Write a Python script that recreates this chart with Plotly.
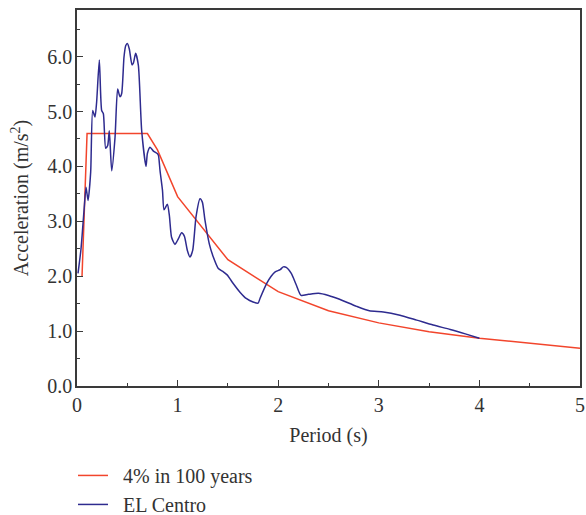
import plotly.graph_objects as go

# Design spectrum "4% in 100 years"
design_T = [0.05, 0.10, 0.70, 0.80, 1.00, 1.50, 2.00, 2.50, 3.00, 3.50, 4.00, 5.00]
design_A = [2.00, 4.60, 4.60, 4.30, 3.45, 2.30, 1.72, 1.37, 1.15, 0.99, 0.87, 0.69]

# EL Centro response spectrum
elc_T = [0.01, 0.04, 0.07, 0.09, 0.11, 0.136, 0.156, 0.179, 0.195, 0.222, 0.245, 0.262,
         0.285, 0.305, 0.321, 0.345, 0.378, 0.404, 0.427, 0.444, 0.467, 0.484, 0.50,
         0.52, 0.547, 0.56, 0.583, 0.61, 0.643, 0.686, 0.70, 0.726, 0.76, 0.80, 0.81,
         0.825, 0.85, 0.865, 0.898, 0.918, 0.94, 0.974, 1.007, 1.04, 1.067, 1.097,
         1.123, 1.15, 1.183, 1.223, 1.246, 1.272, 1.315, 1.355, 1.405, 1.455, 1.495,
         1.54, 1.62, 1.686, 1.75, 1.80, 1.82, 1.886, 1.93, 1.97, 2.02, 2.05, 2.08,
         2.13, 2.18, 2.227, 2.30, 2.40, 2.50, 2.61, 2.78, 2.906, 3.045, 3.21, 3.377,
         3.54, 3.71, 3.86, 4.00]
elc_A = [2.05, 2.50, 3.20, 3.62, 3.38, 3.90, 5.02, 4.90, 5.17, 5.94, 5.02, 4.96,
         4.33, 4.38, 4.65, 3.92, 4.53, 5.41, 5.27, 5.33, 5.99, 6.20, 6.24,
         6.14, 5.85, 5.88, 6.06, 5.84, 4.65, 4.00, 4.24, 4.35, 4.28, 4.23, 4.20,
         3.93, 3.56, 3.21, 3.31, 3.11, 2.71, 2.58, 2.68, 2.79, 2.73, 2.47,
         2.35, 2.47, 3.08, 3.41, 3.35, 3.02, 2.59, 2.35, 2.14, 2.08, 2.02,
         1.90, 1.71, 1.59, 1.53, 1.51, 1.60, 1.87, 2.00, 2.08, 2.12, 2.17, 2.16,
         2.05, 1.84, 1.65, 1.67, 1.69, 1.65, 1.58, 1.45, 1.37, 1.35, 1.29, 1.20,
         1.11, 1.03, 0.95, 0.87]

x_ticks = [0, 1, 2, 3, 4, 5]
y_ticks = [0.0, 1.0, 2.0, 3.0, 4.0, 5.0, 6.0]

font = "Liberation Serif"
axis_col = "#3a3a3a"
fs = 20
nb = "\u00a0\u00a0"

fig = go.Figure()
fig.add_trace(go.Scatter(x=design_T, y=design_A, mode="lines", name=nb + "4% in 100 years",
                         line=dict(color="#F2452C", width=1.5)))
fig.add_trace(go.Scatter(x=elc_T, y=elc_A, mode="lines", name=nb + "EL Centro",
                         line=dict(color="#2E2B8F", width=1.5, shape="spline", smoothing=0.6)))

fig.update_layout(
    width=586, height=515,
    margin=dict(l=77, r=6, t=10, b=129, autoexpand=False),
    paper_bgcolor="white", plot_bgcolor="white",
    font=dict(family=font, size=fs, color="#333333"),
    showlegend=True,
    legend=dict(x=-0.008, xanchor="left", y=-0.186, yanchor="top",
                font=dict(family=font, size=fs, color="#333333"),
                tracegroupgap=0, itemwidth=30, bgcolor="rgba(0,0,0,0)"),
)
fig.update_xaxes(
    range=[0, 5], tickvals=x_ticks, ticktext=[str(v) for v in x_ticks],
    ticks="inside", ticklen=6, tickwidth=1.2, tickcolor=axis_col,
    minor=dict(dtick=0.5, ticks="inside", ticklen=3, tickwidth=1.2, tickcolor=axis_col),
    showline=True, linecolor=axis_col, linewidth=1.5, mirror=True,
    showgrid=False, zeroline=False, automargin=False,
    title=dict(text="Period (s)", font=dict(family=font, size=fs), standoff=13),
)
fig.update_yaxes(
    range=[0, 6.85], tickvals=y_ticks, ticktext=[f"{v:.1f}" for v in y_ticks],
    ticks="inside", ticklen=6, tickwidth=1.2, tickcolor=axis_col, ticklabelstandoff=-1,
    minor=dict(dtick=0.5, ticks="inside", ticklen=3, tickwidth=1.2, tickcolor=axis_col),
    showline=True, linecolor=axis_col, linewidth=1.5, mirror=True,
    showgrid=False, zeroline=False, automargin=False,
    title=dict(text="Acceleration (m/s<sup>2</sup>)", font=dict(family=font, size=fs), standoff=13),
)

fig.write_html("out.html", config={"displayModeBar": False},
               post_script="document.body.style.margin='0';document.body.style.overflow='hidden';")
